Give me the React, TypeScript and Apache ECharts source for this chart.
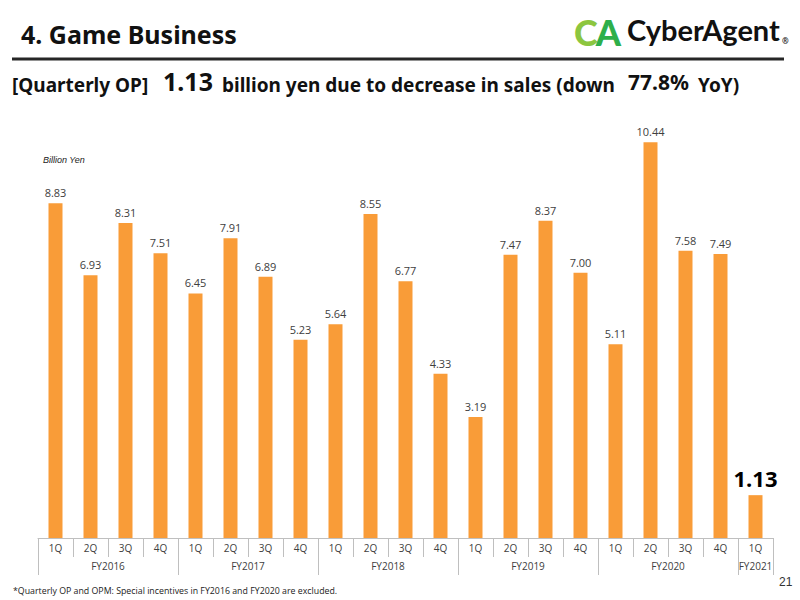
import React, { useEffect, useRef } from "react";
import * as echarts from "echarts";

// Quarterly operating profit of the Game Business, billion yen
const quarters = [
  "1Q", "2Q", "3Q", "4Q",
  "1Q", "2Q", "3Q", "4Q",
  "1Q", "2Q", "3Q", "4Q",
  "1Q", "2Q", "3Q", "4Q",
  "1Q", "2Q", "3Q", "4Q",
  "1Q",
];
const opValues = [
  8.83, 6.93, 8.31, 7.51,
  6.45, 7.91, 6.89, 5.23,
  5.64, 8.55, 6.77, 4.33,
  3.19, 7.47, 8.37, 7.0,
  5.11, 10.44, 7.58, 7.49,
  1.13,
];
const fiscalYears = ["FY2016", "FY2017", "FY2018", "FY2019", "FY2020", "FY2021"];
const quartersPerYear = [4, 4, 4, 4, 4, 1];

const BAR_COLOR = "#F99C38";
const AXIS_COLOR = "#BFBFBF";
const TEXT_COLOR = "#404040";
const FONT = "'Open Sans', 'Noto Sans', sans-serif";
const HEAD_FONT = "'Noto Sans', sans-serif";
const LOGO_FONT = "Lato, 'Noto Sans', sans-serif";

export default function App() {
  const ref = useRef<HTMLDivElement>(null);

  useEffect(() => {
    if (!ref.current) return;
    const chart = echarts.init(ref.current, null, { renderer: "svg" });

    // The fiscal-year row runs on half-quarter steps, so each year's
    // center and each year boundary falls on a point of the axis.
    const halfSteps = quarters.length * 2;
    const yearCenter: Record<number, string> = {};
    const yearBoundary = new Set<number>([0]);
    let start = 0;
    quartersPerYear.forEach((n, i) => {
      yearCenter[start * 2 + n] = fiscalYears[i];
      start += n;
      yearBoundary.add(start * 2);
    });
    const yearRow = Array.from({ length: halfSteps + 1 }, (_, i) => yearCenter[i] ?? "");

    const lastIndex = opValues.length - 1;
    const barData = opValues.map((v, i) =>
      i === lastIndex
        ? {
            value: v,
            label: {
              fontSize: 22,
              fontWeight: "bold",
              color: "#000",
              fontFamily: FONT,
              distance: 6,
            },
          }
        : v
    );

    chart.setOption({
      animation: false,
      backgroundColor: "#fff",
      grid: { left: 38, right: 27, top: 121, bottom: 62, containLabel: false },
      xAxis: [
        {
          type: "category",
          data: quarters,
          boundaryGap: true,
          axisLine: { show: true, lineStyle: { color: AXIS_COLOR, width: 1 } },
          axisTick: {
            show: true,
            interval: 0,
            length: 19,
            lineStyle: { color: AXIS_COLOR, width: 1 },
          },
          axisLabel: {
            interval: 0,
            fontSize: 10,
            color: TEXT_COLOR,
            fontFamily: FONT,
            margin: 5,
          },
          splitLine: { show: false },
        },
        {
          type: "category",
          data: yearRow,
          boundaryGap: false,
          position: "bottom",
          offset: 19,
          axisLine: { show: false },
          splitLine: { show: false },
          axisTick: {
            show: true,
            interval: (index: number) => yearBoundary.has(index),
            length: 18,
            lineStyle: { color: AXIS_COLOR, width: 1 },
          },
          axisLabel: {
            show: true,
            interval: 0,
            fontSize: 10,
            color: TEXT_COLOR,
            fontFamily: FONT,
            margin: 4,
          },
        },
      ],
      yAxis: {
        type: "value",
        min: 0,
        max: 11,
        show: false,
      },
      series: [
        {
          type: "bar",
          xAxisIndex: 0,
          yAxisIndex: 0,
          data: barData,
          barWidth: 14,
          itemStyle: { color: BAR_COLOR },
          label: {
            show: true,
            position: "top",
            distance: 5,
            fontSize: 11,
            color: TEXT_COLOR,
            fontFamily: FONT,
            formatter: (p: any) => Number(p.value).toFixed(2),
          },
        },
      ],
      graphic: [
        // page header
        {
          type: "text",
          x: 21,
          y: 21,
          style: {
            text: "4. Game Business",
            font: `bold 25px ${HEAD_FONT}`,
            fill: "#111",
          },
        },
        {
          type: "line",
          shape: { x1: 12, y1: 59, x2: 784, y2: 59 },
          style: { stroke: "#262626", lineWidth: 3 },
        },
        // company mark
        {
          type: "text",
          x: 574,
          y: 14,
          style: {
            text: "{c|C}{a|A}",
            rich: {
              c: { font: `900 36px ${LOGO_FONT}`, fill: "#8CC63F", padding: [0, -2, 0, 0] },
              a: { font: `900 36px ${LOGO_FONT}`, fill: "#2EAF4A" },
            },
          },
        },
        {
          type: "text",
          x: 627,
          y: 15,
          style: { text: "CyberAgent", font: `bold 29px ${LOGO_FONT}`, fill: "#111" },
        },
        {
          type: "text",
          x: 782,
          y: 36,
          style: { text: "®", font: `bold 8px ${FONT}`, fill: "#111" },
        },
        // headline
        {
          type: "text",
          x: 12,
          y: 75,
          style: { text: "[Quarterly OP]", font: `bold 19px ${HEAD_FONT}`, fill: "#111" },
        },
        {
          type: "text",
          x: 163,
          y: 68,
          style: {
            text: opValues[lastIndex].toFixed(2),
            font: `bold 25px ${HEAD_FONT}`,
            fill: "#111",
          },
        },
        {
          type: "text",
          x: 222,
          y: 75,
          style: {
            text: "billion yen due to decrease in sales (down",
            font: `bold 19px ${HEAD_FONT}`,
            fill: "#111",
          },
        },
        {
          type: "text",
          x: 628,
          y: 71,
          style: { text: "77.8%", font: `bold 21px ${HEAD_FONT}`, fill: "#111" },
        },
        {
          type: "text",
          x: 698,
          y: 75,
          style: { text: "YoY)", font: `bold 19px ${HEAD_FONT}`, fill: "#111" },
        },
        // unit
        {
          type: "text",
          x: 43,
          y: 155,
          style: { text: "Billion Yen", font: `italic 9px 'Liberation Sans', sans-serif`, fill: "#222" },
        },
        // footnote and page number
        {
          type: "text",
          x: 13,
          y: 586,
          style: {
            text: "*Quarterly OP and OPM: Special incentives in FY2016 and FY2020 are excluded.",
            font: `8.8px ${FONT}`,
            fill: "#222",
          },
        },
        {
          type: "text",
          x: 779,
          y: 576,
          style: { text: "21", font: `12px 'Liberation Sans', sans-serif`, fill: "#333" },
        },
      ],
    });

    return () => chart.dispose();
  }, []);

  return (
    <div
      ref={ref}
      style={{ position: "absolute", left: 0, top: 0, width: 800, height: 600 }}
    />
  );
}
